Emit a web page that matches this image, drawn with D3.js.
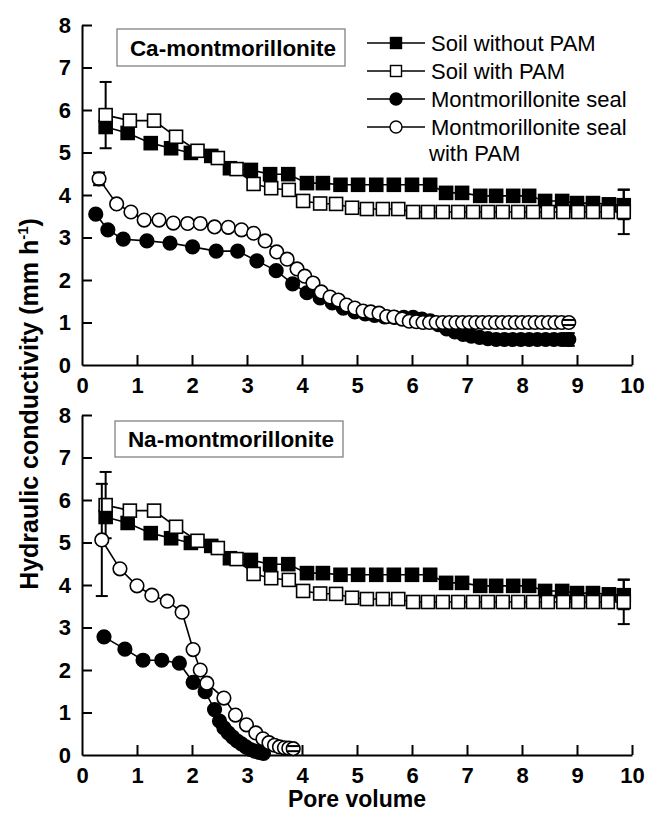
<!DOCTYPE html>
<html>
<head>
  <meta charset="utf-8">
  <title>Hydraulic conductivity</title>
  <style>
    body { margin: 0; background: #fff; }
    text { font-family: Arial, "Liberation Sans", sans-serif; }
  </style>
</head>
<body>
<script src="https://d3js.org/d3.v7.min.js"></script>
<svg id="chart" width="647" height="814"></svg>

<script>
    // soil reference (same in both panels)
    var soilX = [0.43, 0.83, 1.25, 1.62, 1.98, 2.35, 2.69, 3.07, 3.42, 3.75, 4.09, 4.38, 4.7, 5.02, 5.35,
                 5.67, 6.0, 6.33, 6.62, 6.91, 7.24, 7.53, 7.84, 8.13, 8.42, 8.73, 9.0, 9.29, 9.58, 9.85];
    var soilY = [5.6, 5.46, 5.22, 5.1, 4.99, 4.92, 4.63, 4.59, 4.49, 4.49, 4.28, 4.28, 4.24, 4.24, 4.24,
                 4.24, 4.24, 4.24, 4.05, 4.05, 3.98, 3.98, 3.98, 3.98, 3.86, 3.86, 3.81, 3.81, 3.78, 3.76];

    var soilPamX = [0.43, 0.87, 1.31, 1.71, 2.1, 2.47, 2.81, 3.12, 3.44, 3.76, 4.02, 4.33, 4.62, 4.91, 5.18,
                    5.47, 5.75, 6.02, 6.29, 6.56, 6.84, 7.11, 7.38, 7.65, 7.93, 8.2, 8.47, 8.75, 9.02, 9.29, 9.56, 9.85];
    var soilPamY = [5.88, 5.75, 5.75, 5.37, 5.04, 4.87, 4.61, 4.26, 4.16, 4.12, 3.86, 3.8, 3.79, 3.7, 3.67,
                    3.67, 3.67, 3.6, 3.6, 3.6, 3.6, 3.6, 3.6, 3.6, 3.6, 3.6, 3.6, 3.6, 3.6, 3.6, 3.6, 3.6];

    // Ca-montmorillonite seal
    var caSealX = [0.25, 0.47, 0.75, 1.18, 1.6, 2.01, 2.44, 2.83, 3.18, 3.53, 3.83, 4.09, 4.33, 4.55, 4.75,
                   4.96, 5.15, 5.32, 5.5, 5.68, 5.85, 6.02, 6.18, 6.33, 6.48, 6.63, 6.78, 6.93, 7.08, 7.23,
                   7.38, 7.53, 7.68, 7.83, 7.98, 8.13, 8.28, 8.43, 8.58, 8.72, 8.85];
    var caSealY = [3.55, 3.18, 2.96, 2.92, 2.87, 2.78, 2.68, 2.68, 2.45, 2.22, 1.91, 1.7, 1.58, 1.46, 1.34,
                   1.25, 1.2, 1.17, 1.13, 1.12, 1.12, 1.12, 1.08, 1.04, 0.95, 0.85, 0.78, 0.72, 0.68, 0.65,
                   0.62, 0.6, 0.6, 0.6, 0.6, 0.6, 0.6, 0.6, 0.6, 0.6, 0.6];

    var caSealPamX = [0.31, 0.63, 0.89, 1.13, 1.4, 1.66, 1.92, 2.15, 2.41, 2.66, 2.9, 3.12, 3.33, 3.54, 3.73,
                      3.91, 4.05, 4.2, 4.35, 4.51, 4.66, 4.81, 4.96, 5.11, 5.25, 5.4, 5.54, 5.67, 5.82, 5.95,
                      6.08, 6.2, 6.32, 6.44, 6.56, 6.68, 6.8, 6.92, 7.04, 7.16, 7.28, 7.4, 7.52, 7.64, 7.76,
                      7.88, 8.0, 8.12, 8.24, 8.36, 8.48, 8.6, 8.72, 8.85];
    var caSealPamY = [4.38, 3.79, 3.6, 3.41, 3.41, 3.34, 3.33, 3.33, 3.25, 3.24, 3.18, 3.1, 2.92, 2.66, 2.49,
                      2.26, 2.09, 1.93, 1.72, 1.6, 1.53, 1.41, 1.34, 1.27, 1.25, 1.22, 1.14, 1.13, 1.08, 1.03,
                      1.02, 1.0, 1.0, 1.0, 1.0, 1.0, 1.0, 1.0, 1.0, 1.0, 1.0, 1.0, 1.0, 1.0, 1.0,
                      1.0, 1.0, 1.0, 1.0, 1.0, 1.0, 1.0, 1.0, 1.0];

    // Na-montmorillonite seal
    var naSealX = [0.4, 0.78, 1.11, 1.45, 1.77, 2.02, 2.24, 2.41, 2.5, 2.58, 2.66, 2.74, 2.82, 2.9, 2.98,
                   3.06, 3.14, 3.22, 3.3];
    var naSealY = [2.78, 2.49, 2.23, 2.23, 2.16, 1.71, 1.49, 1.07, 0.8, 0.64, 0.52, 0.42, 0.33, 0.26, 0.19,
                   0.13, 0.09, 0.06, 0.04];

    var naSealPamX = [0.36, 0.69, 1.0, 1.27, 1.55, 1.82, 2.02, 2.15, 2.27, 2.58, 2.79, 2.99, 3.16, 3.29, 3.4,
                      3.5, 3.59, 3.68, 3.76, 3.84];
    var naSealPamY = [5.06, 4.38, 3.98, 3.76, 3.62, 3.36, 2.48, 2.0, 1.69, 1.34, 0.94, 0.71, 0.52, 0.38, 0.29,
                      0.23, 0.19, 0.17, 0.16, 0.15];

    // error bars: [x, y, +/-]
    var soilErr = [[9.85, 3.78, 0.35]];
    var soilPamErr = [[0.43, 5.88, 0.78], [9.85, 3.6, 0.52]];
    var caSealErr = [[8.85, 0.6, 0.15]];
    var caSealPamErr = [[0.31, 4.38, 0.15], [8.85, 1.0, 0.06]];
    var naSealPamErr = [[0.36, 5.06, 1.32], [3.84, 0.15, 0.06]];

    var xTicks = [0, 1, 2, 3, 4, 5, 6, 7, 8, 9, 10];
    var yTicks = [0, 1, 2, 3, 4, 5, 6, 7, 8];
    var legendNames = ["Soil without PAM", "Soil with PAM", "Montmorillonite seal", "Montmorillonite seal"];

    var svg = d3.select("#chart");
    var left = 82, right = 632;

    var x = d3.scaleLinear().domain([0, 10]).range([left, right]);

    var panels = [
        { top: 25, bottom: 365, label: "Ca-montmorillonite", box: [117, 29, 228, 37],
          series: [
            { xs: soilX, ys: soilY, shape: "square", fill: "#000", err: soilErr },
            { xs: soilPamX, ys: soilPamY, shape: "square", fill: "#fff", err: soilPamErr },
            { xs: caSealX, ys: caSealY, shape: "circle", fill: "#000", err: caSealErr },
            { xs: caSealPamX, ys: caSealPamY, shape: "circle", fill: "#fff", err: caSealPamErr }
          ], legend: true },
        { top: 415, bottom: 755, label: "Na-montmorillonite", box: [115, 421, 228, 36],
          series: [
            { xs: soilX, ys: soilY, shape: "square", fill: "#000", err: soilErr },
            { xs: soilPamX, ys: soilPamY, shape: "square", fill: "#fff", err: soilPamErr },
            { xs: naSealX, ys: naSealY, shape: "circle", fill: "#000", err: [] },
            { xs: naSealPamX, ys: naSealPamY, shape: "circle", fill: "#fff", err: naSealPamErr }
          ], legend: false }
    ];

    function drawMarker(g, shape, fill, px, py) {
        if (shape === "square") {
            g.append("rect")
                .attr("x", px - 6.5).attr("y", py - 6.5)
                .attr("width", 13).attr("height", 13)
                .attr("fill", fill).attr("stroke", "#000").attr("stroke-width", 1.6);
        } else {
            g.append("circle")
                .attr("cx", px).attr("cy", py).attr("r", 6.8)
                .attr("fill", fill).attr("stroke", "#000").attr("stroke-width", 1.6);
        }
    }

    panels.forEach(function(p) {
        var y = d3.scaleLinear().domain([0, 8]).range([p.bottom, p.top]);
        var g = svg.append("g");

        // axes, ticks pointing inward
        var ax = g.append("g").attr("transform", "translate(0," + p.bottom + ")")
            .call(d3.axisBottom(x).tickValues(xTicks).tickSize(-10).tickSizeOuter(0).tickPadding(12));
        var ay = g.append("g").attr("transform", "translate(" + left + ",0)")
            .call(d3.axisLeft(y).tickValues(yTicks).tickSize(-10).tickSizeOuter(0).tickPadding(11));
        [ax, ay].forEach(function(a) {
            a.select(".domain").attr("stroke", "#000").attr("stroke-width", 2);
            a.selectAll(".tick line").attr("stroke", "#000").attr("stroke-width", 2);
            a.selectAll(".tick text").attr("fill", "#000")
                .style("font-size", "22px").style("font-weight", "bold");
        });
        ax.selectAll(".tick line").filter(function(d) { return d === 0; }).remove();
        ay.selectAll(".tick line").filter(function(d) { return d === 0; }).remove();

        // label box
        g.append("rect")
            .attr("x", p.box[0]).attr("y", p.box[1]).attr("width", p.box[2]).attr("height", p.box[3])
            .attr("fill", "#fff").attr("stroke", "#777").attr("stroke-width", 1.2);
        g.append("text")
            .attr("x", p.box[0] + p.box[2] / 2 + 2).attr("y", p.box[1] + p.box[3] / 2 + 8)
            .attr("text-anchor", "middle")
            .style("font-size", "22.5px").style("font-weight", "bold")
            .text(p.label);

        var line = d3.line().x(function(d) { return x(d[0]); }).y(function(d) { return y(d[1]); });

        p.series.forEach(function(s) {
            var pts = s.xs.map(function(v, i) { return [v, s.ys[i]]; });
            var sg = g.append("g");
            sg.append("path").datum(pts)
                .attr("d", line).attr("fill", "none")
                .attr("stroke", "#000").attr("stroke-width", 1.6);
            s.err.forEach(function(e) {
                var ex = x(e[0]), y1 = y(e[1] + e[2]), y2 = y(e[1] - e[2]);
                sg.append("line").attr("x1", ex).attr("x2", ex).attr("y1", y1).attr("y2", y2)
                    .attr("stroke", "#000").attr("stroke-width", 2);
            });
            pts.forEach(function(d) {
                drawMarker(sg, s.shape, s.fill, x(d[0]), y(d[1]));
            });
            // caps on top of markers
            s.err.forEach(function(e) {
                var ex = x(e[0]);
                [y(e[1] + e[2]), y(e[1] - e[2])].forEach(function(cy) {
                    sg.append("line").attr("x1", ex - 6).attr("x2", ex + 6).attr("y1", cy).attr("y2", cy)
                        .attr("stroke", "#000").attr("stroke-width", 2);
                });
            });
        });

        if (p.legend) {
            var lg = g.append("g");
            var rows = [43, 71, 99, 127];
            p.series.forEach(function(s, i) {
                lg.append("line").attr("x1", 367).attr("x2", 425).attr("y1", rows[i]).attr("y2", rows[i])
                    .attr("stroke", "#000").attr("stroke-width", 1.6);
                if (s.shape === "square") {
                    lg.append("rect").attr("x", 396 - 5.5).attr("y", rows[i] - 5.5)
                        .attr("width", 11).attr("height", 11)
                        .attr("fill", s.fill).attr("stroke", "#000").attr("stroke-width", 1.4);
                } else {
                    lg.append("circle").attr("cx", 396).attr("cy", rows[i]).attr("r", 6)
                        .attr("fill", s.fill).attr("stroke", "#000").attr("stroke-width", 1.4);
                }
                lg.append("text").attr("x", 431).attr("y", rows[i] + 8)
                    .style("font-size", "22px").text(legendNames[i]);
            });
            lg.append("text").attr("x", 429).attr("y", 161)
                .style("font-size", "22px").text("with PAM");
        }
    });

    // axis titles
    svg.append("text")
        .attr("x", (left + right) / 2).attr("y", 807)
        .attr("text-anchor", "middle")
        .style("font-size", "23px").style("font-weight", "bold")
        .text("Pore volume");

    var yt = svg.append("text")
        .attr("transform", "translate(38,404) rotate(-90)")
        .attr("text-anchor", "middle")
        .style("font-size", "25px").style("font-weight", "bold");
    yt.append("tspan").text("Hydraulic conductivity (mm h");
    yt.append("tspan").attr("dy", -10).style("font-size", "15px").text("-1");
    yt.append("tspan").attr("dy", 10).text(")");
</script>
</body>
</html>
